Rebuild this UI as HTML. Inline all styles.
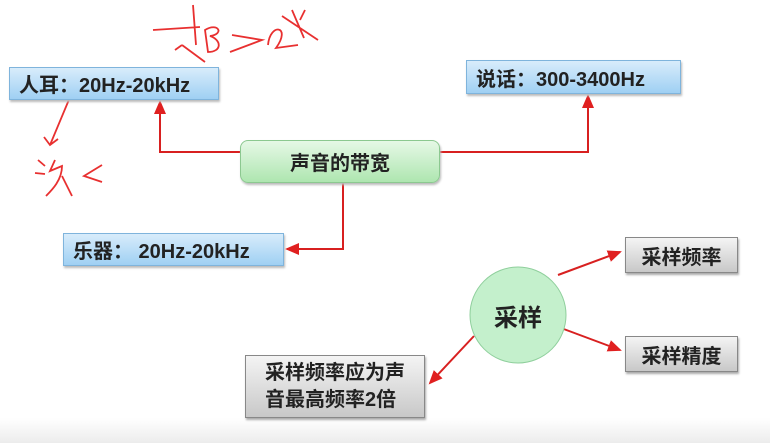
<!DOCTYPE html>
<html><head><meta charset="utf-8"><style>
body{margin:0;width:770px;height:443px;background:#fff;overflow:hidden;position:relative;font-family:"Liberation Sans","Noto Sans CJK SC",sans-serif;font-weight:bold;color:#222}
.b{position:absolute;box-sizing:border-box;display:flex;align-items:center;justify-content:center;font-size:20px}
.blue{background:linear-gradient(#d8ecfb,#9fd0f3);border:1px solid #7fb4dc;box-shadow:1px 2px 2px #bbb;justify-content:flex-start;padding-left:9px}
.gray{background:linear-gradient(#f4f4f4,#c8c8c8);border:1px solid #888;box-shadow:1px 2px 2px #aaa}
</style></head><body>
<div style="position:absolute;left:0;top:418px;width:770px;height:25px;background:linear-gradient(#fff,#ececec)"></div>
<svg width="770" height="443" style="position:absolute;left:0;top:0">
<defs><marker id="a" markerWidth="8" markerHeight="8" refX="6" refY="3" orient="auto"><path d="M0,0 L7,3 L0,6z" fill="#e02020"/></marker></defs>
<g fill="none" stroke="#d82020" stroke-width="2">
<path d="M240,152 H160 V102" marker-end="url(#a)"/>
<path d="M440,152 H588 V96" marker-end="url(#a)"/>
<path d="M343,183 V249 H287" marker-end="url(#a)"/>
<path d="M558,275 L620,252" marker-end="url(#a)"/>
<path d="M561,328 L620,350" marker-end="url(#a)"/>
<path d="M474,336 L430,383" marker-end="url(#a)"/>
</g>
<g fill="none" stroke="#e83030" stroke-width="1.8">
<path d="M153,30 L200,27 M193,5 L196,45 M175,50 L182,45 M182,45 L205,62 M205,30 C218,22 225,34 210,36 C222,40 222,52 208,52 Z M230,52 L262,40 L232,35 M268,45 C270,22 292,26 276,48 L298,45 M292,10 L304,38 M282,16 L318,40 M305,10 L300,20"/>
<path d="M73,90 L50,145 M44,137 L50,145 L58,139 M38,160 L45,166 M35,173 L45,174 M55,160 L50,171 L62,166 C62,180 52,190 46,196 M62,176 L72,196 M102,165 L84,176 L102,182"/>
<path d="M538,92 C550,88 565,90 575,93 M600,92 C615,88 628,88 640,92"/>
</g>
<circle cx="518" cy="315" r="48" fill="#c4f0cc" stroke="#8fcf9c"/>
</svg>
<div class="b blue" style="left:9px;top:67px;width:210px;height:33px">人耳：20Hz-20kHz</div>
<div class="b blue" style="left:466px;top:60px;width:215px;height:34px">说话：300-3400Hz</div>
<div class="b blue" style="left:63px;top:233px;width:221px;height:33px">乐器： 20Hz-20kHz</div>
<div class="b" style="left:240px;top:140px;width:200px;height:43px;border-radius:8px;background:linear-gradient(#e6f8e6,#aee6b0);border:1px solid #8cc890;box-shadow:1px 2px 2px #bbb">声音的带宽</div>
<div class="b" style="left:470px;top:293px;width:96px;height:44px;font-size:24px">采样</div>
<div class="b gray" style="left:625px;top:237px;width:113px;height:36px">采样频率</div>
<div class="b gray" style="left:625px;top:336px;width:113px;height:36px">采样精度</div>
<div class="b gray" style="left:245px;top:355px;width:180px;height:63px;line-height:27px;text-align:left;font-size:20px">采样频率应为声<br>音最高频率2倍</div>
</body></html>
